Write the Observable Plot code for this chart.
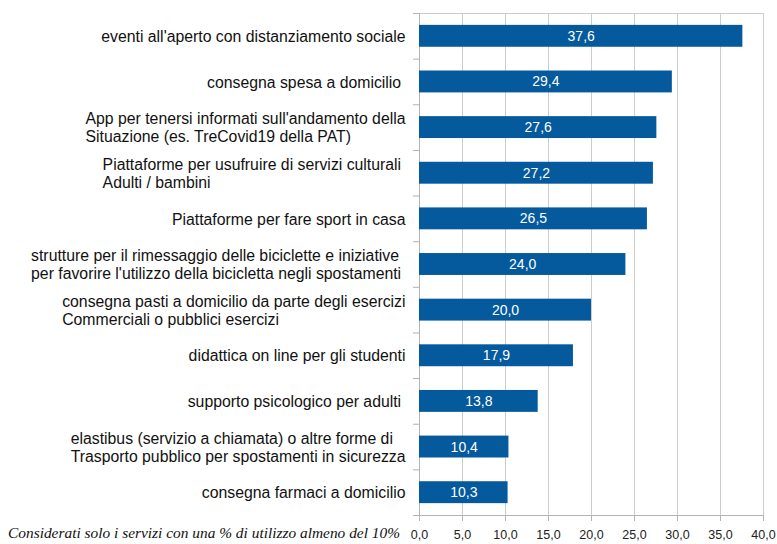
<!DOCTYPE html>
<html>
<head>
<meta charset="utf-8">
<script src="https://cdn.jsdelivr.net/npm/d3@7"></script>
<script src="https://cdn.jsdelivr.net/npm/@observablehq/plot@0.6"></script>
<style>
  html, body { margin: 0; padding: 0; background: #fff; }
  #wrap { position: relative; width: 777px; height: 544px; }
  #caption {
    position: absolute; left: 8px; top: 525px;
    font-family: "Liberation Serif", serif; font-style: italic;
    font-size: 15.4px; color: #111; white-space: nowrap; line-height: 1;
  }
</style>
</head>
<body>
<div id="wrap">
  <div id="chart"></div>
  <div id="caption"></div>
</div>
<script>
const categories = [
  "eventi all'aperto con distanziamento sociale",
  "consegna spesa a domicilio ",
  "App per tenersi informati sull'andamento della\nSituazione (es. TreCovid19 della PAT)",
  "Piattaforme per usufruire di servizi culturali \nAdulti / bambini",
  "Piattaforme per fare sport in casa",
  "strutture per il rimessaggio delle biciclette e iniziative\nper favorire l'utilizzo della bicicletta negli spostamenti ",
  "consegna pasti a domicilio da parte degli esercizi\nCommerciali o pubblici esercizi",
  "didattica on line per gli studenti",
  "supporto psicologico per adulti ",
  "elastibus (servizio a chiamata) o altre forme di\nTrasporto pubblico per spostamenti in sicurezza",
  "consegna farmaci a domicilio"
];
const values = [37.6, 29.4, 27.6, 27.2, 26.5, 24.0, 20.0, 17.9, 13.8, 10.4, 10.3];
const xTicks = [0, 5, 10, 15, 20, 25, 30, 35, 40];
const captionText = "Considerati solo i servizi con una % di utilizzo almeno del 10%";

const data = categories.map((c, i) => ({cat: c, value: values[i]}));
const fmt = v => v.toFixed(1).replace(".", ",");

const W = 777, H = 544;
const mTop = 13, mBottom = 29, mLeft = 419, mRight = 14;
const step = (H - mTop - mBottom) / categories.length;
const barColor = "#045a9c";
const gridColor = "#cccccc";
const axisColor = "#b3b3b3";
const labelFont = "Liberation Sans, Arial, sans-serif";
const labelSize = 15.8;

// measure label widths so multi-line labels are left aligned within a right-aligned block
const ctx = document.createElement("canvas").getContext("2d");
ctx.font = `${labelSize}px "Liberation Sans"`;
const widthOf = s => Math.max(...s.split("\n").map(l => ctx.measureText(l).width));

const labelMarks = categories.map(c => Plot.text([c], {
  y: d => d, text: d => d, frameAnchor: "left", textAnchor: "start",
  dx: -(widthOf(c) + 14), fill: "#111", fontSize: labelSize, lineHeight: 1.13,
  fontFamily: labelFont
}));

const chart = Plot.plot({
  width: W, height: H,
  marginTop: mTop, marginBottom: mBottom, marginLeft: mLeft, marginRight: mRight,
  style: {background: "#fff", fontFamily: labelFont},
  x: {domain: [0, 40], ticks: xTicks, axis: null, label: null},
  y: {domain: categories, paddingInner: 0.52, paddingOuter: 0.26, round: false, axis: null, label: null},
  marks: [
    Plot.gridX(xTicks, {stroke: gridColor, strokeOpacity: 1}),
    Plot.frame({stroke: gridColor}),
    Plot.ruleX([0], {stroke: axisColor}),
    Plot.ruleY(categories, {y: d => d, dy: -step / 2, x1: 0, x2: 0, insetLeft: -6, stroke: axisColor}),
    Plot.ruleY([categories[categories.length - 1]], {y: d => d, dy: step / 2, x1: 0, x2: 40, insetLeft: -6, stroke: axisColor}),
    Plot.barX(data, {x: "value", y: "cat", fill: barColor}),
    Plot.text(data, {x: d => d.value / 2, y: "cat", text: d => fmt(d.value), fill: "#fff", fontSize: 14, fontFamily: labelFont}),
    Plot.axisX({ticks: xTicks, tickFormat: fmt, tickSize: 6, tickPadding: 9, label: null, stroke: axisColor, fill: "#222", fontSize: 12.5, fontFamily: labelFont}),
    ...labelMarks
  ]
});
document.getElementById("chart").appendChild(chart);
document.getElementById("caption").textContent = captionText;
</script>
</body>
</html>
